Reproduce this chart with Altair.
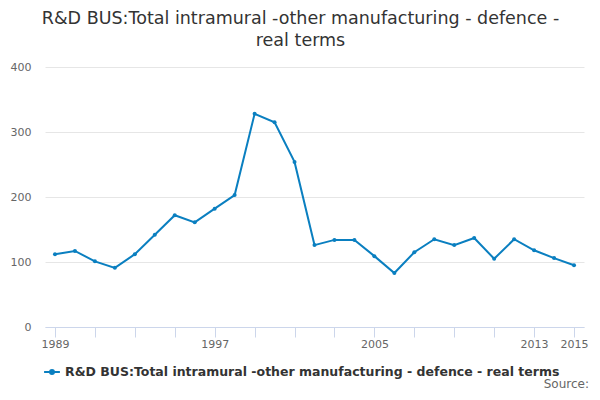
import altair as alt
import pandas as pd

years = list(range(1989, 2016))
values = [112, 117, 101, 91, 112, 142, 172, 161, 182, 203, 328, 315, 254,
          126, 134, 134, 109, 83, 115, 135, 126, 137, 105, 135, 118, 106, 95]
series_name = "R&D BUS:Total intramural -other manufacturing - defence - real terms"
tick_years = list(range(1989, 2016, 2))
label_years = [1989, 1997, 2005, 2013, 2015]

df = pd.DataFrame({"year": years, "value": values, "series": series_name})

W, H = 539, 260
FONT = "DejaVu Sans"

label_expr = "indexof([" + ",".join(str(y) for y in label_years) + "], datum.value) >= 0 ? datum.value : ''"

base = alt.Chart(df).encode(
    x=alt.X("year:Q",
            scale=alt.Scale(domain=[1988.5, 2015.5], nice=False, zero=False),
            axis=alt.Axis(title=None, values=tick_years, labelExpr=label_expr,
                          format="d", grid=False, domainColor="#ccd6eb",
                          tickColor="#ccd6eb", tickSize=10, labelColor="#666666",
                          labelFontSize=11, labelFont=FONT, labelPadding=1,
                          labelFlush=False, labelOverlap=False)),
    y=alt.Y("value:Q",
            scale=alt.Scale(domain=[0, 400], nice=False),
            axis=alt.Axis(title=None, values=[0, 100, 200, 300, 400], domain=False,
                          ticks=False, gridColor="#e6e6e6", labelColor="#666666",
                          labelFontSize=11, labelFont=FONT, labelPadding=14)),
    color=alt.Color("series:N",
                    scale=alt.Scale(range=["#0a7fc0"]),
                    legend=alt.Legend(title=None, orient="none", legendX=-2, legendY=36 + H,
                                      symbolType="M-1,0L1,0M-0.25,0A0.25,0.25,0,1,1,0.25,0A0.25,0.25,0,1,1,-0.25,0",
                                      symbolSize=250, symbolStrokeWidth=2,
                                      labelFont=FONT, labelFontSize=12.5,
                                      labelFontWeight="bold", labelColor="#333333",
                                      labelLimit=600, labelOffset=4)),
)

line = base.mark_line(strokeWidth=2, point=alt.OverlayMarkDef(filled=True, size=16))

source = alt.Chart(pd.DataFrame({"t": ["Source:"]})).mark_text(
    align="right", baseline="alphabetic", font=FONT, fontSize=12, color="#666666"
).encode(x=alt.value(W + 5), y=alt.value(H + 61), text="t:N")

chart = alt.layer(line, source).properties(
    width=W, height=H,
    autosize=alt.AutoSizeParams(type="none"),
    padding={"left": 37, "top": 59, "right": 8, "bottom": 65},
    title=alt.TitleParams(
        text=["R&D BUS:Total intramural -other manufacturing - defence -", "real terms"],
        anchor="middle", font=FONT, fontSize=17.5, fontWeight="normal",
        color="#333333", offset=12, dx=-14, lineHeight=22),
).configure_view(stroke=None)

chart.save("out.html", embed_options={"renderer": "svg", "actions": False})
